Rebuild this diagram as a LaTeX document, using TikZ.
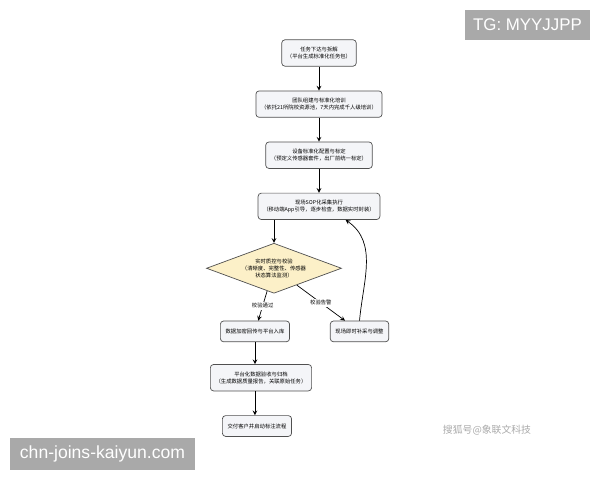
\documentclass[tikz,border=0pt]{standalone}
\usepackage{fontspec}
\newfontfamily\cjk{Noto Sans CJK SC}
\newfontfamily\wmfont{Liberation Sans}
\usetikzlibrary{shapes.geometric, arrows, positioning}
\definecolor{boxfill}{HTML}{F4F5F8}
\definecolor{boxline}{HTML}{505050}
\definecolor{qcfill}{HTML}{FCF0C8}
\definecolor{wmgray}{HTML}{A9A9A9}

\begin{document}
\begin{tikzpicture}[
                x=0.025cm, y=0.025cm,
                >=stealth,
                box/.style={
                    draw=boxline,
                    fill=boxfill,
                    rounded corners=0.8mm,
                    line width=0.5pt,
                    minimum height=6.6mm,
                    inner xsep=1.3mm,
                    align=center
                },
                onebox/.style={
                    box,
                    minimum height=5.2mm
                },
                check/.style={
                    diamond,
                    draw=boxline,
                    fill=qcfill,
                    line width=0.5pt,
                    aspect=2.7,
                    inner sep=0.3mm,
                    minimum width=33.75mm,
                    minimum height=12.5mm,
                    align=center
                },
                arr/.style={
                    ->,
                    line width=0.5pt
                },
                lbl/.style={
                    fill=white,
                    inner sep=0.4mm
                },
                node distance=6mm,
                every node/.style={font=\cjk\fontsize{3.8}{5}\selectfont}
            ]
                \useasboundingbox (0,0) rectangle (600,480);

                \node[box] (task) at (319,427) {任务下达与拆解\\（平台生成标准化任务包）};
                \node[box, below=of task] (team) {团队组建与标准化培训\\（依托21所院校资源池，7天内完成千人级培训）};
                \node[box, below=of team] (device) {设备标准化配置与标定\\（预定义传感器套件，出厂前统一标定）};
                \node[box, below=of device] (onsite) {现场SOP化采集执行\\（移动端App引导，逐步检查，数据实时封装）};
                \node[check, below=5.75mm of onsite, xshift=-11.25mm] (qc) {实时质控与校验\\（清晰度、完整性、传感器\\状态算法监测）};
                \node[onebox, below=6.75mm of qc, xshift=-4.75mm] (upload) {数据加密回传与平台入库};
                \node[onebox, right=10mm of upload] (fix) {现场即时补采与调整};
                \node[box, below=5.5mm of upload, xshift=1.5mm] (accept) {平台化数据验收与归档\\（生成数据质量报告，关联原始任务）};
                \node[onebox, below=of accept, xshift=-1mm] (deliver) {交付客户并启动标注流程};

                \draw[arr] (task.south) -- (task.south |- team.north);
                \draw[arr] (team.south) -- (team.south |- device.north);
                \draw[arr] (device.south) -- (device.south |- onsite.north);
                \draw[arr] (qc.north |- onsite.south) -- (qc.north);
                \draw[arr] (qc) -- node[lbl] {校验通过} (upload);
                \draw[arr] (qc) -- node[lbl] {校验告警} (fix);
                \draw[arr] (fix.north) to[out=85, in=-35] (onsite.-27);
                \draw[arr] (upload.south) -- (upload.south |- accept.north);
                \draw[arr] (upload.south |- accept.south) -- (upload.south |- deliver.north);

                % watermarks
                \node[fill=wmgray, text=white, minimum width=31.25mm, minimum height=7.5mm,
                      font=\wmfont\fontsize{12}{14}\selectfont] (tg) at (527.5,455) {TG: MYYJJPP};
                \node[fill=wmgray, text=white, minimum width=46.25mm, minimum height=8mm,
                      font=\wmfont\fontsize{12.5}{15}\selectfont] (site) at (102.5,26) {chn-joins-kaiyun.com};
                \node[text=wmgray, font=\cjk\fontsize{7}{9}\selectfont] (sohu) at (487,50) {搜狐号@象联文科技};
            \end{tikzpicture}
\end{document}
